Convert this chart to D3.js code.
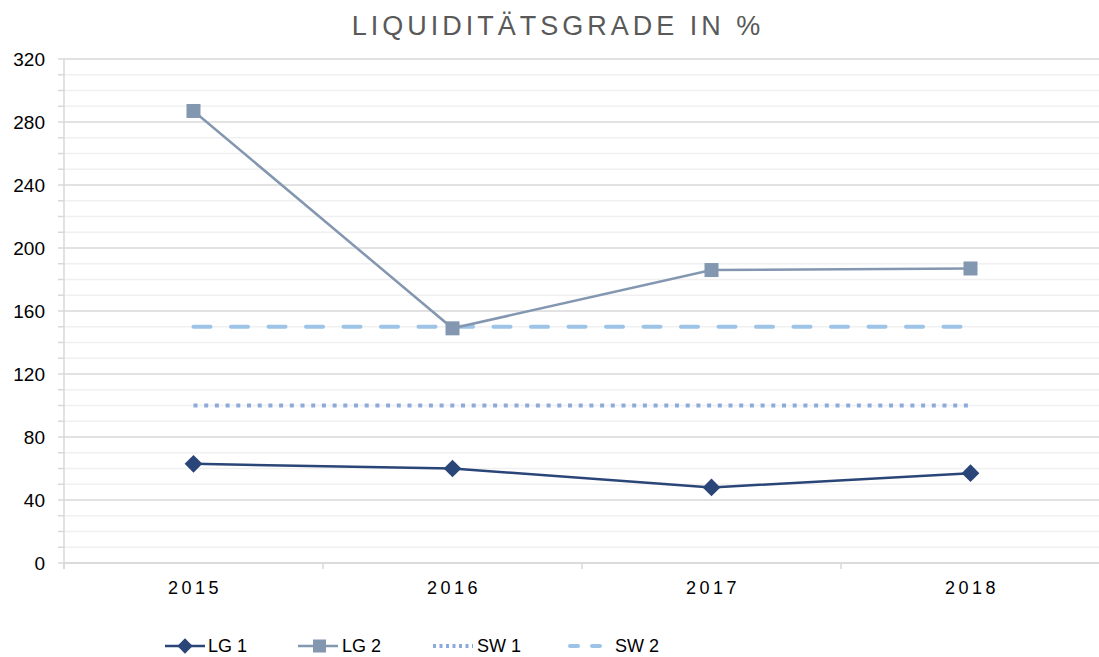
<!DOCTYPE html>
<html>
<head>
<meta charset="utf-8">
<script src="https://cdn.jsdelivr.net/npm/d3@7"></script>
<style>
  body { margin: 0; background: #fff; }
  text { font-family: "Liberation Sans", Arial, sans-serif; }
</style>
</head>
<body>
<div id="chart"></div>
<script>
var years = ['2015', '2016', '2017', '2018'];
var lg1 = [63, 60, 48, 57];
var lg2 = [287, 149, 186, 187];
var sw1 = [100, 100, 100, 100];
var sw2 = [150, 150, 150, 150];
var yTicks = [0, 40, 80, 120, 160, 200, 240, 280, 320];

var width = 1099, height = 657;
var mLeft = 64, mRight = 1100, mTop = 59, mBottom = 563;

var svg = d3.select('#chart').append('svg')
  .attr('width', width)
  .attr('height', height);

var x = d3.scaleBand().domain(years).range([mLeft, mRight]);
var y = d3.scaleLinear().domain([0, 320]).range([mBottom, mTop]);
var cx = function(d, i) { return x(years[i]) + x.bandwidth() / 2; };

// gridlines, minor every 10, major every 40
var minor = d3.range(0, 321, 10);
svg.append('g').selectAll('line').data(minor)
  .enter().append('line')
  .attr('x1', mLeft)
  .attr('x2', mRight)
  .attr('y1', function(d) { return y(d); })
  .attr('y2', function(d) { return y(d); })
  .attr('stroke', function(d) { return d % 40 === 0 ? '#d9d9d9' : '#f0f0f0'; })
  .attr('stroke-width', 1.5);
svg.append('g').selectAll('line').data(minor)
  .enter().append('line')
  .attr('x1', mLeft - 6)
  .attr('x2', mLeft)
  .attr('y1', function(d) { return y(d); })
  .attr('y2', function(d) { return y(d); })
  .attr('stroke', '#d9d9d9')
  .attr('stroke-width', 1.5);

// axis lines
svg.append('line')
  .attr('x1', mLeft).attr('x2', mLeft).attr('y1', mTop).attr('y2', mBottom + 6)
  .attr('stroke', '#d9d9d9').attr('stroke-width', 1.5);
svg.append('line')
  .attr('x1', mLeft).attr('x2', mRight).attr('y1', mBottom).attr('y2', mBottom)
  .attr('stroke', '#d9d9d9').attr('stroke-width', 1.5);
var bounds = years.map(function(d) { return x(d); }).concat([mRight]);
svg.append('g').selectAll('line').data(bounds)
  .enter().append('line')
  .attr('x1', function(d) { return d; })
  .attr('x2', function(d) { return d; })
  .attr('y1', mBottom)
  .attr('y2', mBottom + 6)
  .attr('stroke', '#d9d9d9').attr('stroke-width', 1.5);

// y labels
svg.append('g').selectAll('text').data(yTicks)
  .enter().append('text')
  .attr('x', 45)
  .attr('y', function(d) { return y(d); })
  .attr('dy', '0.35em')
  .attr('text-anchor', 'end')
  .attr('font-size', 19)
  .attr('fill', '#000')
  .text(function(d) { return d; });

// x labels
svg.append('g').selectAll('text').data(years)
  .enter().append('text')
  .attr('x', function(d) { return x(d) + x.bandwidth() / 2 + 1.5; })
  .attr('y', 594)
  .attr('text-anchor', 'middle')
  .attr('font-size', 18)
  .attr('letter-spacing', 3.5)
  .attr('fill', '#000')
  .text(function(d) { return d; });

// title
svg.append('text')
  .attr('x', 558)
  .attr('y', 35)
  .attr('text-anchor', 'middle')
  .attr('font-size', 27)
  .attr('letter-spacing', 4)
  .attr('fill', '#595959')
  .text('LIQUIDITÄTSGRADE IN %');

var line = d3.line().x(cx).y(function(d) { return y(d); });

// reference lines
svg.append('path').datum(sw1)
  .attr('d', line)
  .attr('fill', 'none')
  .attr('stroke', '#8eaadb')
  .attr('stroke-width', 4)
  .attr('stroke-dasharray', '4 6.7');
svg.append('path').datum(sw2)
  .attr('d', line)
  .attr('fill', 'none')
  .attr('stroke', '#9dc3e6')
  .attr('stroke-width', 4)
  .attr('stroke-linecap', 'round')
  .attr('stroke-dasharray', '17 20.5');

// LG 2
svg.append('path').datum(lg2)
  .attr('d', line)
  .attr('fill', 'none')
  .attr('stroke', '#8497b0')
  .attr('stroke-width', 2.5);
svg.append('g').selectAll('rect').data(lg2)
  .enter().append('rect')
  .attr('x', function(d, i) { return cx(d, i) - 7; })
  .attr('y', function(d) { return y(d) - 7; })
  .attr('width', 14)
  .attr('height', 14)
  .attr('fill', '#8497b0');

// LG 1
var diamond = d3.symbol().type(d3.symbolDiamond2).size(200);
svg.append('path').datum(lg1)
  .attr('d', line)
  .attr('fill', 'none')
  .attr('stroke', '#2a4577')
  .attr('stroke-width', 2.5);
svg.append('g').selectAll('path').data(lg1)
  .enter().append('path')
  .attr('d', diamond)
  .attr('transform', function(d, i) { return 'translate(' + cx(d, i) + ',' + y(d) + ')'; })
  .attr('fill', '#2a4577');

// legend
var legend = [
  { name: 'LG 1', x: 165, tx: 208, color: '#2a4577', type: 'diamond' },
  { name: 'LG 2', x: 298, tx: 342, color: '#8497b0', type: 'square' },
  { name: 'SW 1', x: 433, tx: 477, color: '#8eaadb', type: 'dot' },
  { name: 'SW 2', x: 570, tx: 615, color: '#9dc3e6', type: 'dash' }
];
var ly = 646;
var lg = svg.append('g').selectAll('g').data(legend).enter().append('g');
lg.append('line')
  .attr('x1', function(d) { return d.x; })
  .attr('x2', function(d) { return d.type === 'dash' ? d.x + 34 : d.x + 40; })
  .attr('y1', ly).attr('y2', ly)
  .attr('stroke', function(d) { return d.color; })
  .attr('stroke-width', function(d) { return d.type === 'dot' || d.type === 'dash' ? 4 : 2.5; })
  .attr('stroke-linecap', function(d) { return d.type === 'dash' ? 'round' : 'butt'; })
  .attr('stroke-dasharray', function(d) {
    if (d.type === 'dot') return '3 3.5';
    if (d.type === 'dash') return '8 14';
    return null;
  });
lg.filter(function(d) { return d.type === 'diamond'; }).append('path')
  .attr('d', d3.symbol().type(d3.symbolDiamond2).size(150))
  .attr('transform', function(d) { return 'translate(' + (d.x + 20) + ',' + ly + ')'; })
  .attr('fill', function(d) { return d.color; });
lg.filter(function(d) { return d.type === 'square'; }).append('rect')
  .attr('x', function(d) { return d.x + 15; })
  .attr('y', ly - 6.5)
  .attr('width', 13).attr('height', 13)
  .attr('fill', function(d) { return d.color; });
lg.append('text')
  .attr('x', function(d) { return d.tx; })
  .attr('y', ly)
  .attr('dy', '0.35em')
  .attr('font-size', 18)
  .attr('fill', '#000')
  .text(function(d) { return d.name; });
</script>
</body>
</html>
